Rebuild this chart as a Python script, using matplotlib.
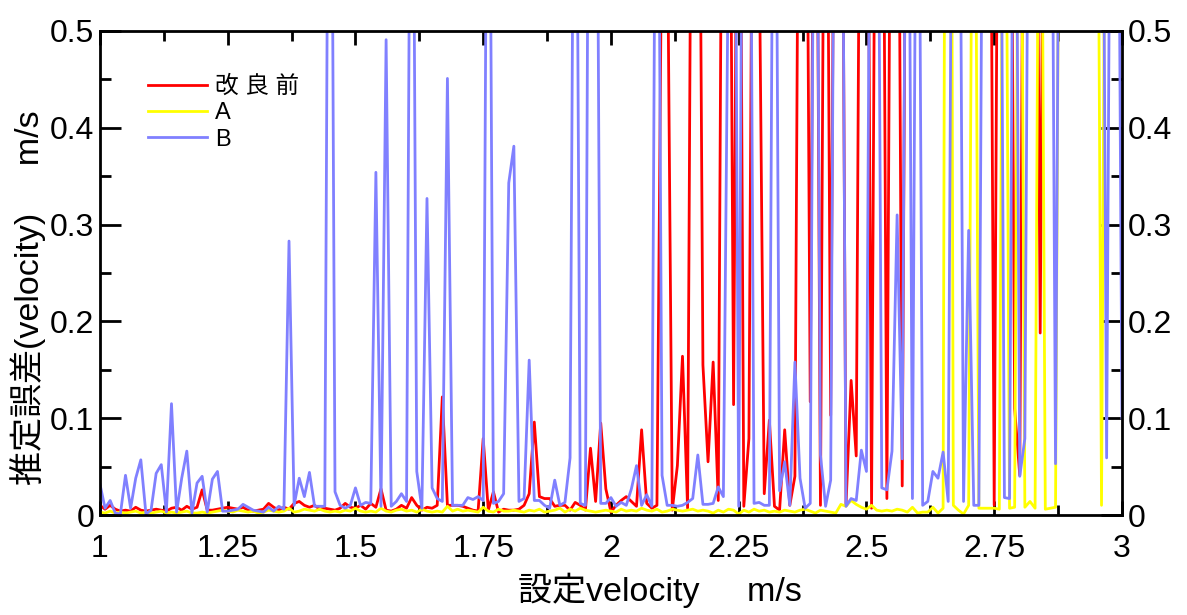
import matplotlib
matplotlib.use("Agg")
import matplotlib.pyplot as plt
import numpy as np
from matplotlib.ticker import MultipleLocator, FuncFormatter

plt.rcParams['font.family'] = ['Liberation Sans', 'Noto Sans CJK JP', 'DejaVu Sans']

# set speed 1.00 .. 3.00 m/s, step 0.01
speed = np.round(np.arange(1.0, 3.0001, 0.01), 2)

# values above 0.5 are off the chart (clipped)
err_before = [
    0.010, 0.006, 0.010, 0.006, 0.004, 0.005, 0.004, 0.008, 0.005, 0.004,
    0.005, 0.006, 0.005, 0.004, 0.007, 0.008, 0.005, 0.009, 0.006, 0.008,
    0.026, 0.005, 0.005, 0.006, 0.007, 0.008, 0.007, 0.006, 0.008, 0.005,
    0.004, 0.005, 0.006, 0.012, 0.008, 0.005, 0.008, 0.006, 0.012, 0.014,
    0.010, 0.008, 0.010, 0.006, 0.007, 0.006, 0.005, 0.007, 0.012, 0.008,
    0.007, 0.010, 0.006, 0.012, 0.008, 0.027, 0.005, 0.004, 0.006, 0.010,
    0.007, 0.018, 0.010, 0.005, 0.008, 0.007, 0.010, 0.122, 0.010, 0.010,
    0.010, 0.009, 0.007, 0.005, 0.004, 0.079, 0.005, 0.024, 0.003, 0.006,
    0.005, 0.005, 0.006, 0.010, 0.022, 0.096, 0.019, 0.017, 0.017, 0.009,
    0.010, 0.010, 0.005, 0.013, 0.010, 0.005, 0.069, 0.014, 0.095, 0.027,
    0.003, 0.010, 0.015, 0.019, 0.014, 0.009, 0.088, 0.012, 0.007, 0.010,
    0.65, 0.65, 0.005, 0.051, 0.164, 0.007, 1.0, 1.0, 0.155, 0.055,
    0.158, 0.015, 1.0, 1.0, 0.114, 1.0, 0.009, 0.079, 1.0, 0.6,
    0.022, 0.098, 0.009, 0.005, 0.088, 0.010, 0.040, 1.0, 1.0, 0.117,
    1.0, 0.010, 1.0, 0.103, 1.0, 1.0, 0.010, 0.139, 0.061, 1.0,
    1.0, 0.007, 1.0, 1.0, 0.017, 1.0, 1.0, 0.030, 1.0, 1.0,
    1.0, 1.0, 1.0, 1.0, 1.0, 1.0, 1.0, 1.0, 1.0, 1.0,
    1.0, 1.0, 1.0, 1.0, 1.0, 0.010, 1.0, 1.0, 1.0, 0.110,
    0.041, 1.0, 1.0, 1.0, 0.188, 1.0, 1.0, 1.0, 1.0, 1.0,
    1.0, 1.0, 1.0, 1.0, 1.0, 1.0, 1.0, 1.0, 1.0, 1.0,
    1.0,
]

err_a = [
    0.003, 0.002, 0.004, 0.002, 0.003, 0.002, 0.003, 0.004, 0.002, 0.003,
    0.002, 0.003, 0.004, 0.002, 0.003, 0.002, 0.003, 0.004, 0.002, 0.002,
    0.003, 0.002, 0.003, 0.004, 0.005, 0.004, 0.003, 0.005, 0.004, 0.003,
    0.004, 0.002, 0.003, 0.005, 0.004, 0.003, 0.004, 0.007, 0.003, 0.004,
    0.006, 0.005, 0.004, 0.006, 0.004, 0.003, 0.004, 0.003, 0.005, 0.004,
    0.007, 0.004, 0.003, 0.004, 0.003, 0.007, 0.004, 0.003, 0.005, 0.006,
    0.004, 0.005, 0.003, 0.006, 0.004, 0.003, 0.004, 0.003, 0.009, 0.004,
    0.006, 0.004, 0.005, 0.004, 0.003, 0.008, 0.004, 0.003, 0.006, 0.004,
    0.004, 0.005, 0.004, 0.003, 0.005, 0.004, 0.006, 0.003, 0.004, 0.005,
    0.007, 0.003, 0.006, 0.004, 0.007, 0.005, 0.004, 0.003, 0.004, 0.005,
    0.004, 0.003, 0.006, 0.004, 0.005, 0.004, 0.007, 0.005, 0.004, 0.006,
    0.003, 0.004, 0.006, 0.005, 0.004, 0.005, 0.006, 0.004, 0.005, 0.004,
    0.002, 0.005, 0.003, 0.006, 0.005, 0.001, 0.005, 0.003, 0.006, 0.004,
    0.005, 0.003, 0.004, 0.003, 0.005, 0.004, 0.003, 0.005, 0.006, 0.004,
    0.002, 0.005, 0.004, 0.003, 0.002, 0.011, 0.009, 0.015, 0.011, 0.008,
    0.006, 0.010, 0.005, 0.004, 0.005, 0.004, 0.006, 0.005, 0.003, 0.008,
    0.002, 0.003, 0.003, 0.008, 0.002, 0.007, 2.0, 0.010, 0.005, 0.001,
    0.010, 1.0, 0.007, 0.007, 0.007, 0.007, 0.006, 1.0, 0.007, 0.008,
    1.0, 0.008, 0.014, 0.007, 1.0, 0.006, 0.007, 0.008, 1.0, 1.0,
    1.0, 1.0, 1.0, 1.0, 1.0, 1.0, 0.010, 1.0, 1.0, 1.0,
    1.0,
]

err_b = [
    0.032, 0.007, 0.015, 0.002, 0.001, 0.041, 0.007, 0.038, 0.057, 0.001,
    0.005, 0.043, 0.052, 0.003, 0.115, 0.003, 0.038, 0.066, 0.002, 0.033,
    0.040, 0.003, 0.037, 0.045, 0.004, 0.004, 0.005, 0.006, 0.011, 0.008,
    0.005, 0.004, 0.003, 0.008, 0.004, 0.009, 0.006, 0.283, 0.010, 0.038,
    0.019, 0.044, 0.009, 0.009, 0.009, 1.1, 0.024, 0.010, 0.007, 0.010,
    0.028, 0.010, 0.013, 0.012, 0.354, 0.009, 0.491, 0.009, 0.014, 0.022,
    0.014, 1.0, 0.045, 0.007, 0.327, 0.028, 0.017, 0.014, 0.451, 0.010,
    0.010, 0.010, 0.018, 0.016, 0.019, 0.015, 1.0, 0.012, 0.014, 0.022,
    0.343, 0.381, 0.014, 0.017, 0.160, 0.015, 0.015, 0.010, 0.007, 0.036,
    0.010, 0.013, 0.059, 1.0, 0.012, 0.010, 1.2, 1.0, 0.012, 0.012,
    0.018, 0.009, 0.013, 0.010, 0.027, 0.051, 0.010, 0.021, 0.009, 1.0,
    0.041, 0.010, 0.010, 0.009, 0.010, 0.013, 0.017, 0.062, 0.011, 0.011,
    0.012, 0.029, 0.019, 0.6, 1.0, 0.009, 1.0, 1.0, 0.012, 0.013,
    0.010, 0.010, 1.0, 0.025, 0.055, 0.010, 0.158, 0.038, 0.007, 0.012,
    1.0, 0.062, 0.009, 0.036, 1.0, 1.0, 0.009, 0.017, 0.015, 0.067,
    0.045, 1.0, 1.0, 0.028, 0.026, 0.066, 0.310, 0.058, 1.0, 0.017,
    1.0, 0.010, 0.014, 0.045, 0.038, 0.065, 0.014, 1.0, 1.0, 0.014,
    0.294, 0.010, 0.010, 1.0, 1.0, 1.0, 1.0, 0.018, 0.017, 1.0,
    0.040, 0.079, 1.0, 1.0, 1.0, 1.0, 1.0, 0.053, 1.0, 1.0,
    1.0, 1.0, 1.0, 1.0, 1.0, 1.0, 1.0, 0.059, 1.0, 1.0,
    0.100,
]

fig = plt.figure(figsize=(11.87, 6.15), dpi=100)
ax = fig.add_axes([0.0842, 0.1626, 0.861, 0.787])

ax.plot(speed, err_before, color='#ff0000', lw=2.0, label='改 良 前')
ax.plot(speed, err_a, color='#ffff00', lw=2.0, label='A')
ax.plot(speed, err_b, color='#8080ff', lw=2.0, label='B')

ax.set_xlim(1, 3)
ax.set_ylim(0, 0.5)
ax.xaxis.set_major_locator(MultipleLocator(0.25))
ax.xaxis.set_minor_locator(MultipleLocator(0.125))
ax.yaxis.set_major_locator(MultipleLocator(0.1))
ax.yaxis.set_minor_locator(MultipleLocator(0.05))
fmt = FuncFormatter(lambda v, p: f"{v:g}")
ax.xaxis.set_major_formatter(fmt)
ax.yaxis.set_major_formatter(fmt)

ax.tick_params(which='both', direction='in', top=True, right=True,
               labelright=True, width=2, labelsize=23)
ax.tick_params(axis='y', which='major', length=15, pad=4)
ax.tick_params(axis='y', which='minor', length=8)
ax.tick_params(axis='x', which='major', length=10, pad=14)
ax.tick_params(axis='x', which='minor', length=7)
for s in ax.spines.values():
    s.set_linewidth(2)

ax.set_xlabel('設定velocity     m/s', fontsize=24.5)
ax.xaxis.set_label_coords(0.548, -0.12)
ax.set_ylabel('推定誤差(velocity)     m/s', fontsize=24.5)
ax.yaxis.set_label_coords(-0.053, 0.45)

ax.legend(loc='upper left', bbox_to_anchor=(0.038, 0.927), frameon=False,
          fontsize=17, handlelength=2.5, handletextpad=0.34,
          labelspacing=0.18, borderaxespad=0)

fig.savefig('out.png', dpi=100)
